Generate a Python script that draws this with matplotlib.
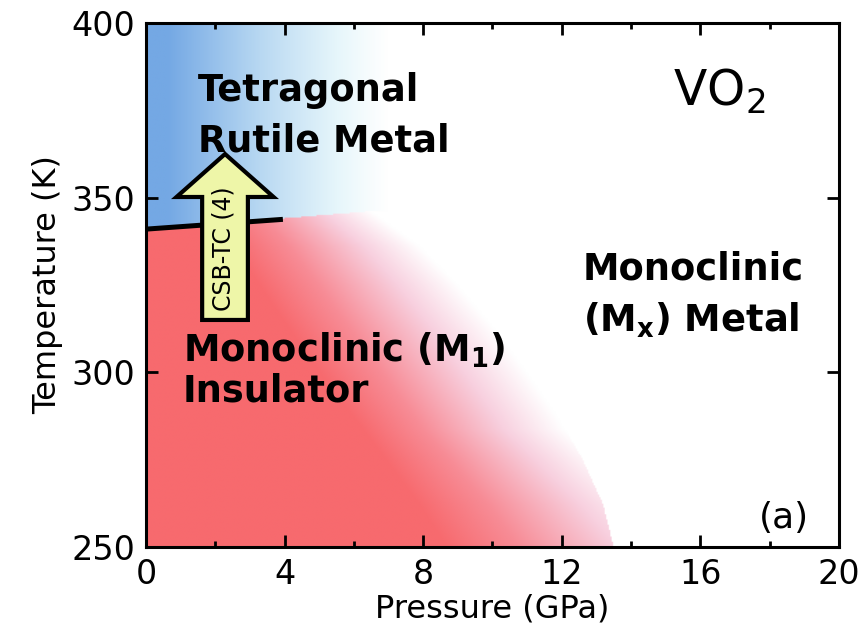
import numpy as np
import matplotlib
matplotlib.use('Agg')
import matplotlib.pyplot as plt
from matplotlib.colors import LinearSegmentedColormap
from matplotlib.patches import FancyArrow
from matplotlib.ticker import MultipleLocator

# phase boundary M1 <-> rutile (GPa, K)
boundary_P = [0.0, 3.95]
boundary_T = [341.0, 343.8]

# top edge of the insulating region and its outer (pressure) edge
insul_top_P = [0.0, 4.0, 6.5, 20.0]
insul_top_T = [341.0, 344.0, 346.0, 346.0]
insul_edge_T = [250, 262, 275, 287, 300, 312, 325, 336, 346]
insul_edge_P = [13.5, 13.2, 12.6, 11.9, 11.0, 10.1, 9.0, 7.9, 6.5]

# rutile shading fades out by this pressure
rutile_fade_P = 7.0

# CSB-TC arrow (pressure, start T, end T)
arrow_P = 2.28
arrow_T = [315.0, 362.5]

xticks = [0, 4, 8, 12, 16, 20]
yticks = [250, 300, 350, 400]

# background shading
nx, ny = 500, 400
P = np.linspace(0, 20, nx)
T = np.linspace(250, 400, ny)
PP, TT = np.meshgrid(P, T)

top = np.interp(PP, insul_top_P, insul_top_T)
edge = np.interp(TT, insul_edge_T, insul_edge_P)
r = PP / edge
frac = np.clip((TT - 250) / 96.0, 0, 1)
start = 0.64 - 0.36 * frac
edge_a = 0.32 * np.clip(1 - frac / 0.35, 0, 1)
a_red = np.where(r < start, 1.0, 1.0 - (1.0 - edge_a) * (r - start) / (1.0 - start))
a_red = np.where(r > 1.0, 0.0, a_red)
a_red = np.clip(a_red, 0, 1)

a_blue = np.clip((rutile_fade_P - PP) / (rutile_fade_P - 0.6), 0, 1) ** 1.1

red_cmap = LinearSegmentedColormap.from_list(
    'ins', [(0, '#ffffff'), (0.3, '#f8d0df'), (0.7, '#f78c96'), (1, '#f76a6e')])
blue_cmap = LinearSegmentedColormap.from_list(
    'rut', [(0, '#ffffff'), (0.2, '#e6f6fb'), (0.55, '#b8d8f2'), (1, '#74a8e4')])

img = np.where((TT > top)[..., None], blue_cmap(a_blue), red_cmap(a_red))

fig = plt.figure(figsize=(8.61, 6.36), dpi=100)
ax = fig.add_axes([0.1696, 0.1399, 0.8048, 0.8239])
ax.imshow(img, extent=[0, 20, 250, 400], origin='lower', aspect='auto',
          interpolation='bilinear', zorder=0)

ax.plot(boundary_P, boundary_T, color='black', lw=3.6, solid_capstyle='butt', zorder=2)

arr = FancyArrow(arrow_P, arrow_T[0], 0, arrow_T[1] - arrow_T[0], width=1.32,
                 head_width=2.8, head_length=12.3, length_includes_head=True,
                 facecolor='#eef6a8', edgecolor='black', lw=3, joinstyle='miter', zorder=3)
ax.add_patch(arr)
ax.text(arrow_P - 0.03, 335.5, 'CSB-TC (4)', rotation=90, fontsize=17,
        ha='center', va='center', zorder=4)

bold = dict(fontsize=26.5, fontweight='bold', ha='left', va='baseline', zorder=4)
ax.text(1.5, 377.6, 'Tetragonal', **bold)
ax.text(1.5, 363.3, 'Rutile Metal', **bold)
ax.text(1.07, 303.1, r'Monoclinic (M$_\mathbf{1}$)', **bold)
ax.text(1.07, 291.6, 'Insulator', **bold)
ax.text(12.6, 326.6, 'Monoclinic', **bold)
ax.text(12.6, 311.7, r'(M$_\mathbf{x}$) Metal', **bold)

ax.text(15.2, 376.2, r'VO$_2$', fontsize=35, ha='left', va='baseline', zorder=4)
ax.text(18.4, 258.3, '(a)', fontsize=26, ha='center', va='center', zorder=4)

ax.set_xlim(0, 20)
ax.set_ylim(250, 400)
ax.set_xticks(xticks)
ax.set_yticks(yticks)
ax.xaxis.set_minor_locator(MultipleLocator(2))
ax.tick_params(which='both', direction='in', top=True, right=True, width=2, labelsize=24)
ax.tick_params(which='major', length=8.5, pad=8)
ax.tick_params(which='minor', length=4.3)
ax.tick_params(axis='y', pad=8)
for s in ax.spines.values():
    s.set_linewidth(2.2)
    s.set_zorder(5)

ax.set_xlabel('Pressure (GPa)', fontsize=23, labelpad=2)
ax.set_ylabel('Temperature (K)', fontsize=23, labelpad=6)

fig.savefig('out.png', dpi=100)
